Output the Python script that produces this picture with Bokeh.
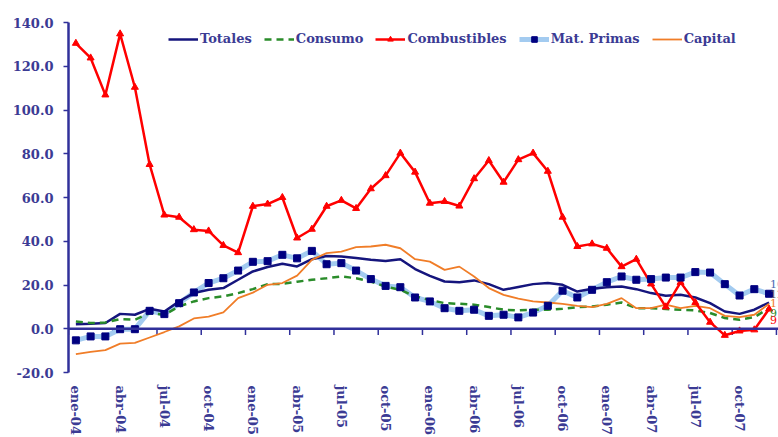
from bokeh.plotting import figure
from bokeh.models import FixedTicker, Span, Legend, LegendItem, NumeralTickFormatter
from bokeh.core.properties import value
from bokeh.embed import file_html
from bokeh.resources import INLINE

# ---- data (monthly, ene-04 .. dic-07) ----
tick_labels = ["ene-04", "abr-04", "jul-04", "oct-04", "ene-05", "abr-05", "jul-05", "oct-05",
               "ene-06", "abr-06", "jul-06", "oct-06", "ene-07", "abr-07", "jul-07", "oct-07"]

totales = [2.1, 2.3, 2.6, 6.8, 6.4, 9.1, 7.9, 12.5, 16.3, 17.8,
           18.6, 22.4, 26.2, 28.2, 29.7, 28.5, 31.8, 33.3, 33.0, 32.3,
           31.5, 31.0, 31.8, 27.3, 24.2, 21.6, 21.3, 22.1, 20.4, 17.8,
           19.1, 20.4, 20.9, 20.1, 17.0, 18.3, 19.0, 19.3, 18.1, 16.3,
           15.1, 15.5, 14.3, 11.7, 7.9, 6.8, 8.7, 12.0]

consumo = [3.3, 2.6, 2.9, 4.4, 4.1, 7.2, 6.4, 10.2, 12.5, 14.0,
           14.8, 16.3, 18.1, 20.4, 20.5, 21.5, 22.4, 23.1, 23.9, 23.1,
           21.6, 19.3, 17.8, 14.8, 13.2, 11.7, 11.4, 11.0, 9.9, 8.7,
           8.4, 8.7, 8.7, 9.1, 9.9, 10.2, 11.0, 12.0, 9.4, 9.4,
           9.0, 8.7, 8.4, 7.2, 4.9, 4.1, 5.3, 9.4]

combustibles = [130.5, 123.8, 106.9, 134.8, 110.4, 75.1, 52.0, 51.0, 45.3, 44.7,
                38.1, 34.8, 56.0, 57.0, 60.0, 41.5, 45.5, 56.0, 58.7, 55.0,
                64.0, 70.0, 80.3, 71.6, 57.4, 58.2, 56.1, 68.6, 76.9, 67.0,
                77.3, 80.3, 72.0, 51.0, 37.6, 38.8, 36.8, 28.4, 31.8, 20.5,
                10.0, 21.2, 12.0, 3.0, -3.0, -1.0, -0.5, 9.0]

mat_primas = [-5.3, -3.5, -3.5, -0.2, -0.2, 8.2, 6.7, 11.7, 16.6, 20.9,
              23.1, 26.6, 30.6, 30.9, 33.8, 32.2, 35.6, 29.5, 30.0, 26.6,
              22.7, 19.6, 19.0, 14.3, 12.5, 9.4, 8.2, 8.7, 5.9, 6.4,
              5.2, 7.4, 10.5, 17.4, 14.3, 17.8, 21.3, 23.9, 22.4, 22.7,
              23.4, 23.4, 25.9, 25.7, 20.4, 15.2, 18.1, 16.0]

capital = [-11.6, -10.6, -9.8, -6.8, -6.5, -4.0, -1.5, 1.1, 4.7, 5.5,
           7.5, 14.0, 16.5, 20.1, 20.9, 24.3, 31.5, 34.6, 35.3, 37.3,
           37.6, 38.4, 36.8, 31.8, 30.7, 26.9, 28.4, 23.9, 18.6, 15.5,
           13.8, 12.5, 12.0, 11.4, 10.5, 9.9, 11.4, 14.0, 9.4, 9.4,
           11.0, 9.4, 10.5, 9.4, 5.9, 5.3, 6.4, 11.4]

n = len(totales)
x = list(range(n))

TXT = "#3b3b94"
AXIS = "#30309a"
FONT = "DejaVu Serif"

p = figure(width=778, height=437, output_backend="svg", toolbar_location=None,
           x_range=(-0.5, n - 0.36), y_range=(-20, 140),
           min_border_left=68, min_border_right=0, min_border_top=22, min_border_bottom=63)
p.outline_line_color = None
p.xgrid.visible = False
p.ygrid.visible = False
p.background_fill_color = "white"

# y axis
p.yaxis.ticker = FixedTicker(ticks=list(range(-20, 141, 20)))
p.yaxis.formatter = NumeralTickFormatter(format="0.0")
p.yaxis.axis_line_color = AXIS
p.yaxis.axis_line_width = 2.5
p.yaxis.major_tick_line_color = AXIS
p.yaxis.major_tick_line_width = 1.5
p.yaxis.major_tick_out = 5
p.yaxis.major_tick_in = 0
p.yaxis.minor_tick_line_color = None
p.yaxis.major_label_standoff = 10
p.yaxis.major_label_text_font = FONT
p.yaxis.major_label_text_font_style = "bold"
p.yaxis.major_label_text_font_size = "13px"
p.yaxis.major_label_text_color = TXT

# x axis (labels only, at bottom)
label_ticks = list(range(0, n, 3))
p.xaxis.ticker = FixedTicker(ticks=label_ticks)
p.xaxis.major_label_overrides = {t: lab for t, lab in zip(label_ticks, tick_labels)}
p.xaxis.major_label_orientation = "vertical"
p.xaxis.axis_line_color = None
p.xaxis.major_tick_line_color = None
p.xaxis.minor_tick_line_color = None
p.xaxis.major_tick_out = 0
p.xaxis.major_label_standoff = 13
p.xaxis.major_label_text_font = FONT
p.xaxis.major_label_text_font_style = "bold"
p.xaxis.major_label_text_font_size = "13px"
p.xaxis.major_label_text_color = TXT

# horizontal axis line at zero with tick marks at category boundaries
p.add_layout(Span(location=0, dimension="width", line_color=AXIS, line_width=2.5))
bx = [t - 0.5 for t in range(0, n + 1, 3)]
p.segment(x0=bx, y0=[0] * len(bx), x1=bx, y1=[-2.8] * len(bx), line_color=AXIS, line_width=1.5)

# series
r_mp_line = p.line(x, mat_primas, line_color="#a3cbf0", line_width=5)
r_tot = p.line(x, totales, line_color="#15157d", line_width=2.5)
r_con = p.line(x, consumo, line_color="#2a8c2a", line_width=2.5, line_dash="7 5")
r_cap = p.line(x, capital, line_color="#f07d28", line_width=1.8)
r_cb_line = p.line(x, combustibles, line_color="#ff0000", line_width=2.5)
r_cb_mk = p.scatter(x, combustibles, marker="triangle", size=7, fill_color="#ff0000", line_color="#ff0000")
r_mp_mk = p.scatter(x, mat_primas, marker="square", size=7, fill_color="#000080", line_color="#000080")

# end-of-series data labels (cut by the right edge, as in the original)
end_vals = [mat_primas[-1], totales[-1], capital[-1], consumo[-1], combustibles[-1]]
end_cols = ["#4a6ab4", "#555566", "#f07d28", "#2a8c2a", "#ff0000"]
end_offs = [-10, -9, -1, 5, 11]
for v, c, off in zip(end_vals, end_cols, end_offs):
    p.text(x=[n - 1], y=[v], text=[f"{round(v):.0f}"], x_offset=1, y_offset=off,
           text_font=value(FONT), text_font_size="11px", text_color=c,
           text_baseline="middle", text_align="left")

legend = Legend(items=[
    LegendItem(label="Totales", renderers=[r_tot]),
    LegendItem(label="Consumo", renderers=[r_con]),
    LegendItem(label="Combustibles", renderers=[r_cb_line, r_cb_mk]),
    LegendItem(label="Mat. Primas", renderers=[r_mp_line, r_mp_mk]),
    LegendItem(label="Capital", renderers=[r_cap]),
], orientation="horizontal", location=(100, 326))
legend.background_fill_alpha = 0
legend.border_line_color = None
legend.label_text_font = FONT
legend.label_text_font_style = "bold"
legend.label_text_font_size = "13px"
legend.label_text_color = TXT
legend.glyph_width = 30
legend.glyph_height = 14
legend.label_standoff = 2
legend.spacing = 12
legend.padding = 3
legend.margin = 0
p.add_layout(legend)

open("out.html", "w").write(file_html(p, INLINE))
